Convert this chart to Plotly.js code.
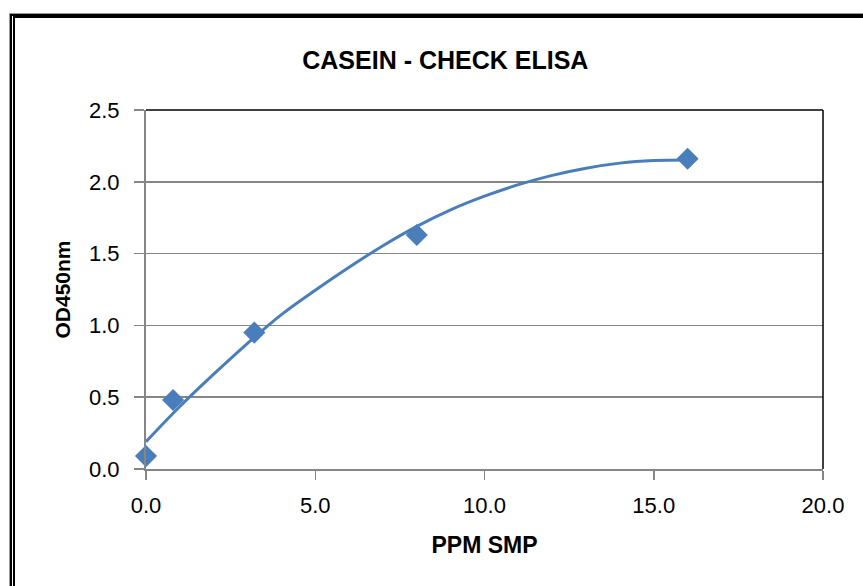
<!DOCTYPE html>
<html>
<head>
<meta charset="utf-8">
<script src="https://cdn.plot.ly/plotly-3.0.1.min.js"></script>
<style>
html,body{margin:0;padding:0;background:#fff;width:863px;height:586px;overflow:hidden;}
#chart{position:absolute;left:0;top:0;width:863px;height:586px;}
#f1{position:absolute;left:10px;top:14px;width:900px;height:700px;border-left:2px solid #000;border-top:2px solid #000;box-shadow:-1px -1px 0 #999;}
#f2{position:absolute;left:13px;top:16px;width:900px;height:700px;border-left:2px solid #000;border-top:2px solid #000;}
</style>
</head>
<body>
<div id="chart"></div>
<div id="f1"></div>
<div id="f2"></div>
<script>
// measured data points
const ppm = [0, 0.8, 3.2, 8, 16];
const od = [0.09, 0.48, 0.95, 1.63, 2.16];
// trendline
const trendX = [0, 1, 2, 3, 4, 5, 6, 7, 8, 9, 10, 11, 12, 13, 14, 15, 16];
const trendY = [0.19, 0.435, 0.66, 0.875, 1.075, 1.245, 1.405, 1.555, 1.69, 1.805, 1.90, 1.98, 2.045, 2.095, 2.13, 2.148, 2.152];
const xTicks = [0, 5, 10, 15, 20];
const xTickText = ['0.0', '5.0', '10.0', '15.0', '20.0'];
const yTicks = [0, 0.5, 1, 1.5, 2, 2.5];
const yTickText = ['0.0', '0.5', '1.0', '1.5', '2.0', '2.5'];

const blue = '#4a7ebb';
const font = '"Liberation Sans", Arial, sans-serif';

const traces = [
  {x: trendX, y: trendY, mode: 'lines', type: 'scatter', line: {color: blue, width: 3, shape: 'spline', smoothing: 1}, hoverinfo: 'skip'},
  {x: ppm, y: od, mode: 'markers', type: 'scatter', cliponaxis: false, marker: {symbol: 'diamond', size: 17, color: blue}}
];

const layout = {
  width: 863, height: 586,
  margin: {l: 146, r: 40, t: 110, b: 117},
  paper_bgcolor: 'rgba(0,0,0,0)', plot_bgcolor: '#fff',
  showlegend: false,
  font: {family: font, color: '#000'},
  title: {text: '<b>CASEIN - CHECK ELISA</b>', font: {size: 25, family: font, color: '#000'}, x: 0.516, xanchor: 'center', y: 0.898, yanchor: 'middle', xref: 'container', yref: 'container'},
  xaxis: {
    range: [0, 20], tickvals: xTicks, ticktext: xTickText, showgrid: false, zeroline: false,
    showline: true, linecolor: '#868686', linewidth: 1.5,
    ticks: 'outside', ticklen: 9, tickcolor: '#868686', tickwidth: 1.5,
    ticklabelstandoff: 7,
    tickfont: {size: 22, family: font, color: '#000'},
    title: {text: '<b>PPM SMP</b>', font: {size: 23, family: font, color: '#000'}, standoff: 20}
  },
  yaxis: {
    range: [0, 2.5], tickvals: yTicks, ticktext: yTickText, showgrid: true, gridcolor: '#868686', gridwidth: 1.5, zeroline: false,
    showline: true, linecolor: '#868686', linewidth: 2,
    ticks: 'outside', ticklen: 10, tickcolor: '#868686', tickwidth: 1.5,
    ticklabelstandoff: 10,
    tickfont: {size: 22, family: font, color: '#000'},
    title: {text: '<b>OD450nm</b>', font: {size: 21, family: font, color: '#000'}, standoff: 13}
  },
  shapes: [
    {type: 'line', xref: 'paper', yref: 'paper', x0: 0, x1: 1, y0: 1, y1: 1, line: {color: '#000', width: 1.5}},
    {type: 'line', xref: 'paper', yref: 'paper', x0: 1, x1: 1, y0: 0, y1: 1, line: {color: '#000', width: 1.5}}
  ]
};

Plotly.newPlot('chart', traces, layout, {displayModeBar: false, staticPlot: true});
</script>
</body>
</html>
